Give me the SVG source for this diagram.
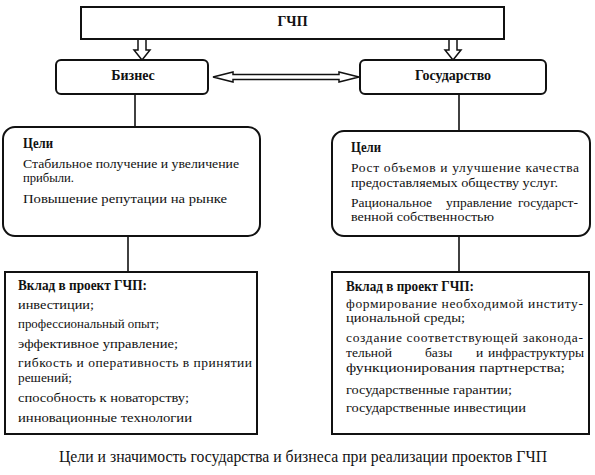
<svg xmlns="http://www.w3.org/2000/svg" width="595" height="475" viewBox="0 0 595 475">
<style>
.box{fill:#fff;stroke:#111;stroke-width:2}
.ln{stroke:#111;stroke-width:1.6;fill:none}
.arr{fill:#fff;stroke:#111;stroke-width:1.5;stroke-linejoin:miter}
text{font-family:"Liberation Serif","DejaVu Serif","Noto Serif",serif;fill:#111}
.t{font-size:13.5px}
.b{font-size:14px;font-weight:bold}
.cap{font-size:16px}
</style>
<rect width="595" height="475" fill="#fff"/>
<g id="connectors">
<polygon class="arr" points="138,39 146,39 146,50 150,50 142,60 134,50 138,50"/>
<polygon class="arr" points="449,39 457,39 457,50 461,50 453,60 445,50 449,50"/>
<polygon class="arr" points="213,77 233,72 233,74.5 339,74.5 339,72 359,77 339,82 339,79.5 233,79.5 233,82"/>
<line class="ln" x1="135" y1="94" x2="135" y2="127"/>
<line class="ln" x1="128" y1="236" x2="128" y2="272"/>
<line class="ln" x1="459" y1="94" x2="459" y2="131"/>
<line class="ln" x1="459" y1="236" x2="459" y2="272"/>
</g>
<g id="gchp">
<rect class="box" x="81" y="7" width="423" height="32"/>
<text class="b" x="292.5" y="26" text-anchor="middle">ГЧП</text>
</g>
<g id="biznes">
<rect class="box" x="56" y="60" width="152" height="34" rx="5"/>
<text class="b" x="133" y="80" text-anchor="middle">Бизнес</text>
</g>
<g id="gosudarstvo">
<rect class="box" x="360" y="60" width="186" height="34" rx="5"/>
<text class="b" x="453" y="80" text-anchor="middle">Государство</text>
</g>
<g id="celi-biznes">
<rect class="box" x="3" y="127" width="257" height="109" rx="12"/>
<text class="b" x="23" y="148" textLength="30" lengthAdjust="spacingAndGlyphs">Цели</text>
<text class="t" x="23" y="168" textLength="216" lengthAdjust="spacingAndGlyphs">Стабильное получение и увеличение</text>
<text class="t" x="23" y="182" textLength="51" lengthAdjust="spacingAndGlyphs">прибыли.</text>
<text class="t" x="23" y="203" textLength="204" lengthAdjust="spacingAndGlyphs">Повышение репутации на рынке</text>
</g>
<g id="celi-gos">
<rect class="box" x="332" y="131" width="258" height="105" rx="12"/>
<text class="b" x="351" y="152" textLength="30" lengthAdjust="spacingAndGlyphs">Цели</text>
<text class="t" x="351" y="172" textLength="228" lengthAdjust="spacing">Рост объемов и улучшение качества</text>
<text class="t" x="351" y="187" textLength="207" lengthAdjust="spacingAndGlyphs">предоставляемых обществу услуг.</text>
<text class="t" x="351" y="207">Рациональное</text>
<text class="t" x="446" y="207">управление</text>
<text class="t" x="578" y="207" text-anchor="end">государст-</text>
<text class="t" x="351" y="221" textLength="143" lengthAdjust="spacingAndGlyphs">венной собственностью</text>
</g>
<g id="vklad-biznes">
<rect class="box" x="5" y="272" width="252" height="162"/>
<text class="b" x="18" y="290" textLength="129" lengthAdjust="spacingAndGlyphs">Вклад в проект ГЧП:</text>
<text class="t" x="18" y="309" textLength="76" lengthAdjust="spacingAndGlyphs">инвестиции;</text>
<text class="t" x="18" y="328" textLength="141" lengthAdjust="spacingAndGlyphs">профессиональный опыт;</text>
<text class="t" x="18" y="348" textLength="160" lengthAdjust="spacingAndGlyphs">эффективное управление;</text>
<text class="t" x="18" y="367" textLength="234" lengthAdjust="spacing">гибкость и оперативность в принятии</text>
<text class="t" x="18" y="382" textLength="54" lengthAdjust="spacingAndGlyphs">решений;</text>
<text class="t" x="18" y="402" textLength="171" lengthAdjust="spacingAndGlyphs">способность к новаторству;</text>
<text class="t" x="18" y="422" textLength="174" lengthAdjust="spacingAndGlyphs">инновационные технологии</text>
</g>
<g id="vklad-gos">
<rect class="box" x="332" y="272" width="257" height="162"/>
<text class="b" x="346" y="291" textLength="128" lengthAdjust="spacingAndGlyphs">Вклад в проект ГЧП:</text>
<text class="t" x="346" y="308" textLength="237" lengthAdjust="spacing">формирование необходимой институ-</text>
<text class="t" x="346" y="322" textLength="119" lengthAdjust="spacingAndGlyphs">циональной среды;</text>
<text class="t" x="346" y="342" textLength="237" lengthAdjust="spacing">создание соответствующей законода-</text>
<text class="t" x="346" y="357">тельной</text>
<text class="t" x="425" y="357">базы</text>
<text class="t" x="476" y="357">и</text>
<text class="t" x="584" y="357" text-anchor="end">инфраструктуры</text>
<text class="t" x="346" y="372" textLength="219" lengthAdjust="spacingAndGlyphs">функционирования партнерства;</text>
<text class="t" x="346" y="394" textLength="166" lengthAdjust="spacingAndGlyphs">государственные гарантии;</text>
<text class="t" x="346" y="412" textLength="180" lengthAdjust="spacingAndGlyphs">государственные инвестиции</text>
</g>
<text class="cap" x="59" y="462" textLength="488" lengthAdjust="spacingAndGlyphs">Цели и значимость государства и бизнеса при реализации проектов ГЧП</text>
</svg>
